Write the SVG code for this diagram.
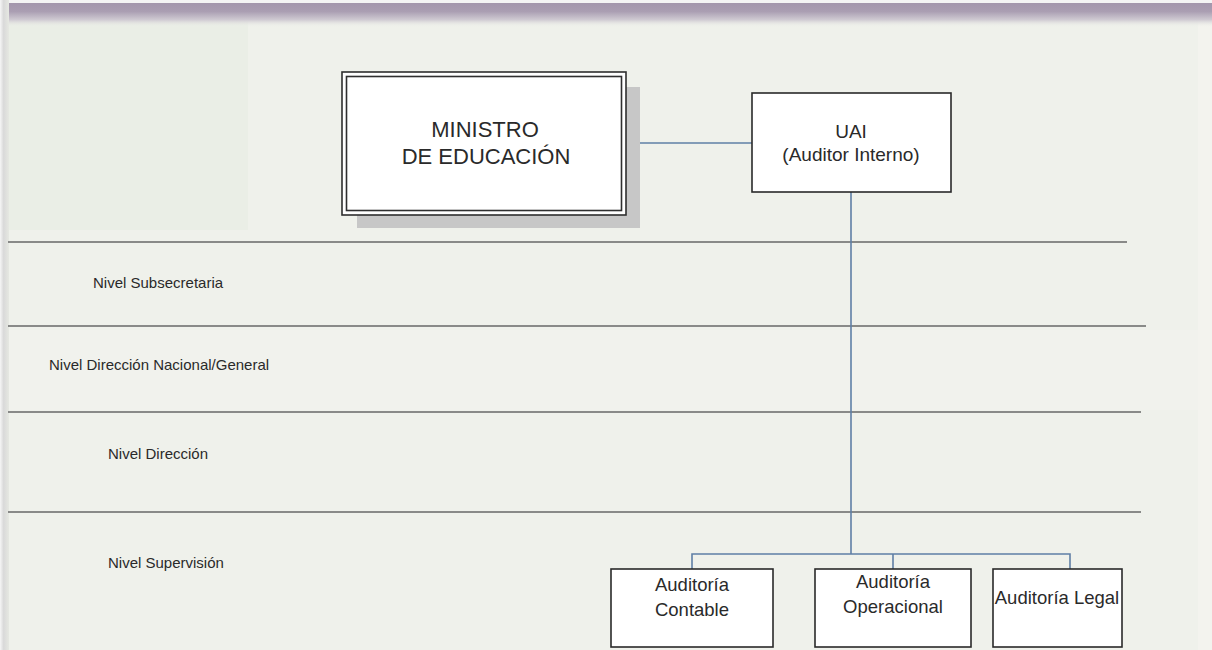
<svg xmlns="http://www.w3.org/2000/svg" width="1212" height="650" viewBox="0 0 1212 650">
  <defs>
    <linearGradient id="topbar" x1="0" y1="0" x2="0" y2="1">
      <stop offset="0" stop-color="#a396ac"/>
      <stop offset="0.35" stop-color="#aa9eb2"/>
      <stop offset="0.7" stop-color="#cfcad2"/>
      <stop offset="1" stop-color="#eef0ea" stop-opacity="0"/>
    </linearGradient>
    <linearGradient id="leftedge" x1="0" y1="0" x2="1" y2="0">
      <stop offset="0" stop-color="#f6f6f6"/>
      <stop offset="0.4" stop-color="#d9d9d9"/>
      <stop offset="1" stop-color="#e6e8e2"/>
    </linearGradient>
    <style>
      .level { stroke: #676767; stroke-width: 1.6; fill: none; }
      .conn { stroke: #5f7fa6; stroke-width: 1.6; fill: none; }
      .box { fill: #ffffff; stroke: #2a2a2a; stroke-width: 1.6; }
      .lbl { font-family: "Liberation Sans", Arial, sans-serif; fill: #2a2a2a; }
      .lvl { font-family: "Liberation Sans", Arial, sans-serif; font-size: 15px; fill: #2a2a2a; }
    </style>
  </defs>

  <!-- background -->
  <rect x="0" y="0" width="1212" height="650" fill="#eff1eb"/>
  <rect x="8" y="20" width="240" height="210" fill="#eaeee6"/>
  <rect x="8" y="330" width="1190" height="80" fill="#f1f2ed"/>
  <rect x="1198" y="0" width="14" height="650" fill="#f3f3ee"/>
  <rect x="0" y="0" width="1212" height="3" fill="#f4f4f4"/>
  <rect x="0" y="3" width="1212" height="24" fill="url(#topbar)"/>
  <rect x="0" y="0" width="9" height="650" fill="url(#leftedge)"/>

  <!-- level lines and labels -->
  <g id="levels">
    <line class="level" x1="8" y1="242" x2="1127" y2="242"/>
    <line class="level" x1="8" y1="326" x2="1146" y2="326"/>
    <line class="level" x1="8" y1="412" x2="1141" y2="412"/>
    <line class="level" x1="8" y1="512" x2="1141" y2="512"/>
    <text class="lvl" x="93" y="288">Nivel Subsecretaria</text>
    <text class="lvl" x="49" y="370">Nivel Dirección Nacional/General</text>
    <text class="lvl" x="108" y="459">Nivel Dirección</text>
    <text class="lvl" x="108" y="568">Nivel Supervisión</text>
  </g>

  <!-- connectors -->
  <g id="connectors">
    <line class="conn" x1="626" y1="143" x2="752" y2="143"/>
    <line class="conn" x1="851" y1="192" x2="851" y2="554"/>
    <polyline class="conn" points="692,569 692,554 1070,554 1070,569"/>
    <line class="conn" x1="893" y1="554" x2="893" y2="569"/>
  </g>

  <!-- Ministro -->
  <g id="ministro">
    <rect x="357" y="87" width="283" height="141" fill="#c7c7c7"/>
    <rect x="342" y="72" width="284" height="143" fill="#ffffff" stroke="#2f2f2f" stroke-width="1.6"/>
    <rect x="346.5" y="76.5" width="275" height="134" fill="#ffffff" stroke="#2f2f2f" stroke-width="1.6"/>
    <text class="lbl" x="485" y="137" font-size="22" text-anchor="middle">MINISTRO</text>
    <text class="lbl" x="486" y="164" font-size="22" text-anchor="middle">DE EDUCACIÓN</text>
  </g>

  <!-- UAI -->
  <g id="uai">
    <rect class="box" x="752" y="93" width="199" height="99"/>
    <text class="lbl" x="851" y="138" font-size="19" text-anchor="middle">UAI</text>
    <text class="lbl" x="851" y="161" font-size="19" text-anchor="middle">(Auditor Interno)</text>
  </g>

  <!-- Auditoria Contable -->
  <g id="contable">
    <rect class="box" x="611" y="569" width="162" height="78"/>
    <text class="lbl" x="692" y="591" font-size="18.5" text-anchor="middle">Auditoría</text>
    <text class="lbl" x="692" y="616" font-size="18.5" text-anchor="middle">Contable</text>
  </g>

  <!-- Auditoria Operacional -->
  <g id="operacional">
    <rect class="box" x="815" y="569" width="156" height="78"/>
    <text class="lbl" x="893" y="588" font-size="18.5" text-anchor="middle">Auditoría</text>
    <text class="lbl" x="893" y="613" font-size="18.5" text-anchor="middle">Operacional</text>
  </g>

  <!-- Auditoria Legal -->
  <g id="legal">
    <rect class="box" x="993" y="569" width="129" height="78"/>
    <text class="lbl" x="1057" y="604" font-size="18.5" text-anchor="middle">Auditoría Legal</text>
  </g>
</svg>
